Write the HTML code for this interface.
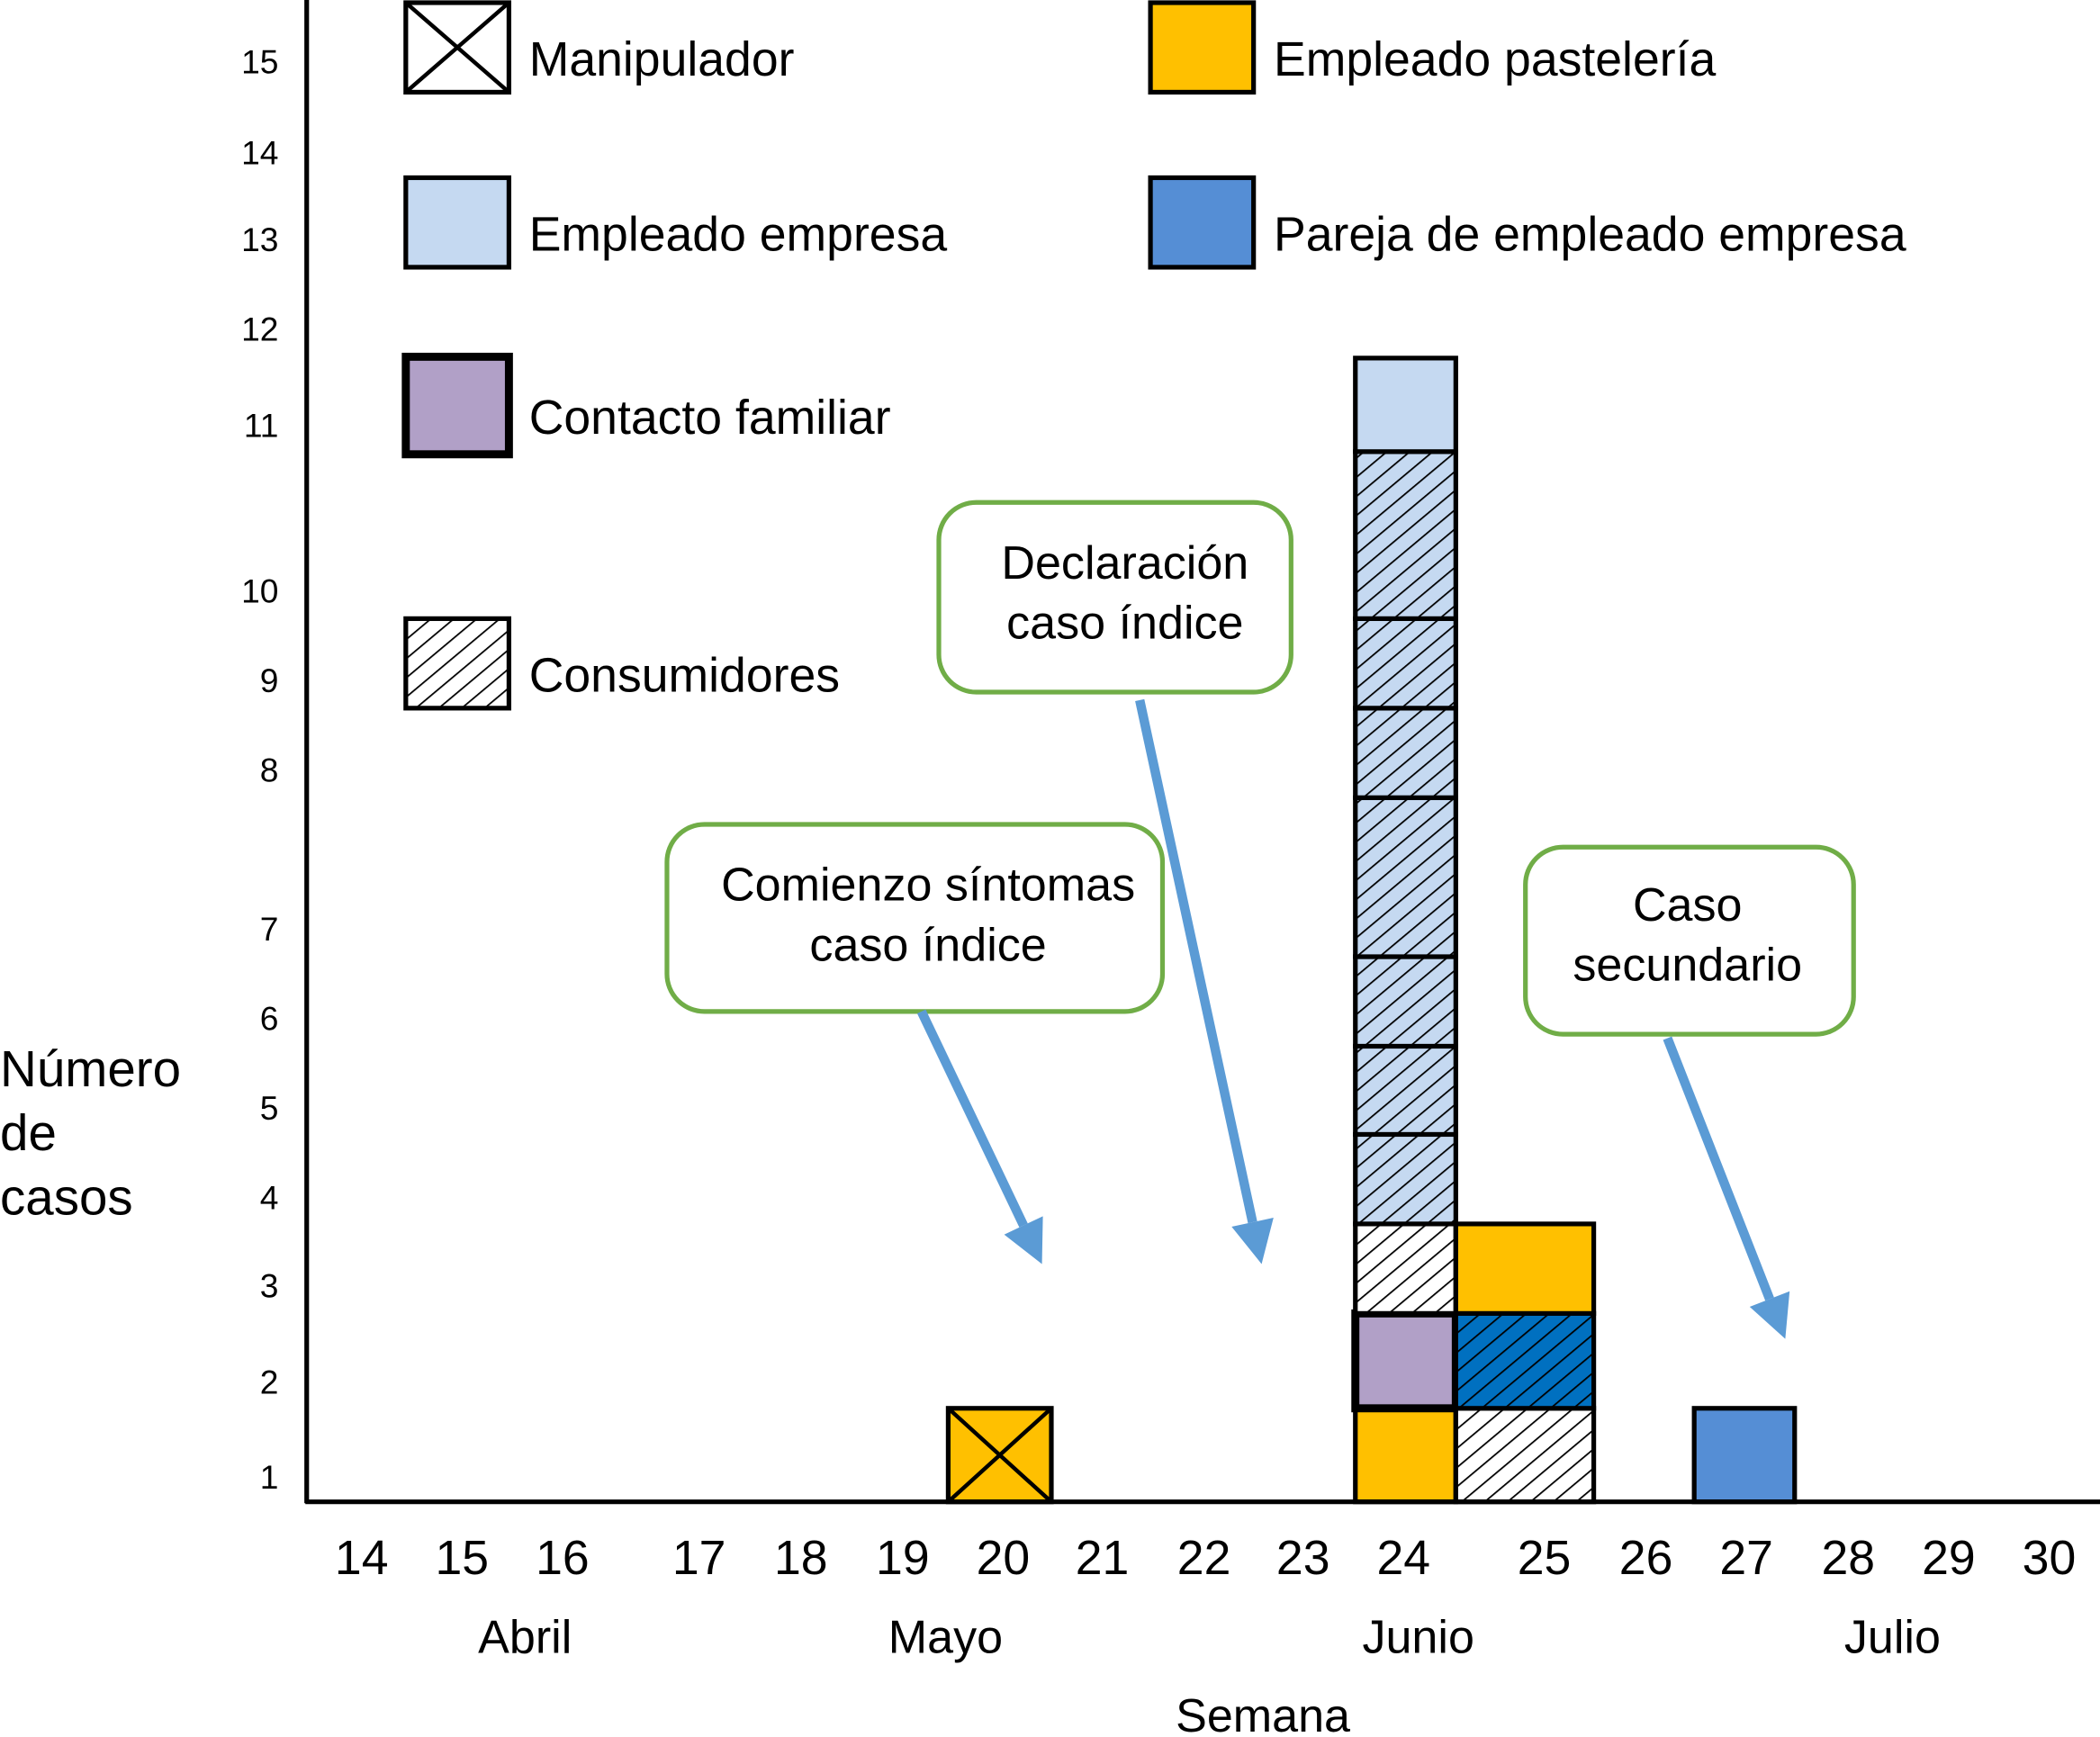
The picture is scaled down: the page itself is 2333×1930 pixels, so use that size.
<!DOCTYPE html>
<html><head><meta charset="utf-8"><style>
html,body{margin:0;padding:0;background:#fff;}
svg{display:block;font-family:"Liberation Sans",Arial,sans-serif;}
</style></head><body>
<svg id="chart" width="2333" height="1930" viewBox="0 0 1568 1300" preserveAspectRatio="none" xmlns="http://www.w3.org/2000/svg">
<defs>
<pattern id="hatch" patternUnits="userSpaceOnUse" width="11" height="11" patternTransform="rotate(50)">
<line x1="0" y1="0" x2="0" y2="11" stroke="#000" stroke-width="2.4"/>
</pattern>
</defs>
<g id="legend"></g>
<g id="marks"></g>
<g id="axes"></g>
<g id="callouts"></g>
</svg>
<script>
// ---- data ----
const weeks = [14,15,16,17,18,19,20,21,22,23,24,25,26,27,28,29,30];
const yTicks = [1,2,3,4,5,6,7,8,9,10,11,12,13,14,15];
const months = ["Abril","Mayo","Junio","Julio"];
// stacked segments, bottom-up, per week
const barWeeks = [20, 24, 25, 27];
const barStacks = [
  ["manipulador"],
  ["pasteleria","contacto","consumidor","consumEmp","consumEmp","consumEmp","consumEmp","consumEmp","consumEmp","consumEmp","empresa"],
  ["consumidor","parejaHatch","pasteleria"],
  ["pareja"]
];
// ---- axis functions (irregular drawn axis) ----
const NS="http://www.w3.org/2000/svg";
const levelPx=[1124,1054,983,916,849,783,716,597,530,463,338,268,200,133,66,0];
const tickPx=[1105,1034,962,896,829,762,695,576,509,442,318,246,179,114,46];
const weekPx={14:270,15:345,16:420,17:522,18:598,19:674,20:749,21:823,22:899,23:973,24:1048,25:1153,26:1229,27:1304,28:1380,29:1455,30:1530};
const barSpan={20:[708,785],24:[1012,1087],25:[1087,1190],27:[1265,1340]};
const monthPx=[392,706,1059,1413];
function yScale(v){const i=Math.floor(v);const f=v-i;const a=levelPx[Math.min(i,levelPx.length-1)],b=levelPx[Math.min(i+1,levelPx.length-1)];return a+(b-a)*f;}
function xScale(w){return weekPx[w];}
function barX(w){return barSpan[w]||[xScale(w)-37,xScale(w)+37];}
function el(tag,attrs,parent){const e=document.createElementNS(NS,tag);for(const k in attrs)e.setAttribute(k,attrs[k]);parent.appendChild(e);return e;}
const styles={
 manipulador:{fill:"#FFC000",x:true},
 pasteleria:{fill:"#FFC000"},
 contacto:{fill:"#B1A0C7",sw:6},
 consumidor:{fill:"#fff",hatch:true},
 consumEmp:{fill:"#C5D9F1",hatch:true},
 empresa:{fill:"#C5D9F1"},
 parejaHatch:{fill:"#0070C0",hatch:true},
 pareja:{fill:"#558ED5"}
};
function drawBox(g,x0,y0,x1,y1,s){
  el("rect",{x:x0,y:y0,width:x1-x0,height:y1-y0,fill:s.fill},g);
  if(s.hatch) el("rect",{x:x0,y:y0,width:x1-x0,height:y1-y0,fill:"url(#hatch)"},g);
  if(s.x){el("line",{x1:x0,y1:y0,x2:x1,y2:y1,stroke:"#000","stroke-width":3},g);el("line",{x1:x1,y1:y0,x2:x0,y2:y1,stroke:"#000","stroke-width":3},g);}
  el("rect",{x:x0,y:y0,width:x1-x0,height:y1-y0,fill:"none",stroke:"#000","stroke-width":s.sw||3.5},g);
}
const marks=document.getElementById("marks");
barWeeks.forEach((w,i)=>{
  const [x0,x1]=barX(w);
  barStacks[i].forEach((cat,j)=>{
    const g=el("g",{},marks);
    
    
    drawBox(g,x0,yScale(j+1),x1,yScale(j),styles[cat]);
  });
});
// axes
const axes=document.getElementById("axes");
el("line",{x1:229,y1:0,x2:229,y2:1125,stroke:"#000","stroke-width":3.5},axes);
el("line",{x1:228,y1:1124,x2:1568,y2:1124,stroke:"#000","stroke-width":3.5},axes);
yTicks.forEach((t,i)=>{const e=el("text",{x:208,y:tickPx[i]+9,"text-anchor":"end","font-size":25},axes);e.textContent=t;

});
weeks.forEach(w=>{const e=el("text",{x:xScale(w),y:1178,"text-anchor":"middle","font-size":36},axes);e.textContent=w;

});
months.forEach((m,i)=>{const e=el("text",{x:monthPx[i],y:1237,"text-anchor":"middle","font-size":35},axes);e.textContent=m;

});
const xt=el("text",{x:943,y:1296,"text-anchor":"middle","font-size":35},axes);xt.textContent="Semana";


["Número","de","casos"].forEach((s,i)=>{const e=el("text",{x:0,y:813+i*48,"font-size":38},axes);e.textContent=s;

});
// legend
const legend=document.getElementById("legend");
const legendItems=[
 ["Manipulador",303,2,{fill:"#fff",x:true}],
 ["Empleado empresa",303,133,{fill:"#C5D9F1"}],
 ["Contacto familiar",303,267,{fill:"#B1A0C7",sw:6}],
 ["Consumidores",303,463,{fill:"#fff",hatch:true}],
 ["Empleado pastelería",859,2,{fill:"#FFC000"}],
 ["Pareja de empleado empresa",859,133,{fill:"#558ED5"}]
];
legendItems.forEach(it=>{
  const g=el("g",{},legend);
  
  
  const h=it[0]==="Contacto familiar"?73:67;
  drawBox(g,it[1],it[2],it[1]+77,it[2]+h,it[3]);
  const t=el("text",{x:it[1]+92,y:it[2]+h/2+21,"font-size":36},g);t.textContent=it[0];
});
// callouts
const co=document.getElementById("callouts");
const callouts=[
 [701,376,263,142,["Declaración","caso índice"],840,433,[851,524,942,946]],
 [498,617,370,140,["Comienzo síntomas","caso índice"],693,674,[688,757,778,946]],
 [1139,634,245,140,["Caso","secundario"],1260,689,[1245,777,1333,1002]]
];
callouts.forEach(c=>{
  const g=el("g",{},co);
  
  
  el("rect",{x:c[0],y:c[1],width:c[2],height:c[3],rx:28,fill:"#fff",stroke:"#70AD47","stroke-width":3.5},g);
  c[4].forEach((s,i)=>{const t=el("text",{x:c[5],y:c[6]+i*45,"text-anchor":"middle","font-size":35},g);t.textContent=s;});
  const [x1,y1,x2,y2]=c[7];const dx=x2-x1,dy=y2-y1,L=Math.hypot(dx,dy),ux=dx/L,uy=dy/L;
  const bx=x2-ux*32,by=y2-uy*32;
  el("line",{x1:x1,y1:y1,x2:bx,y2:by,stroke:"#5B9BD5","stroke-width":7},g);
  el("polygon",{points:`${x2},${y2} ${bx-uy*16},${by+ux*16} ${bx+uy*16},${by-ux*16}`,fill:"#5B9BD5"},g);
});
</script>
</body></html>
